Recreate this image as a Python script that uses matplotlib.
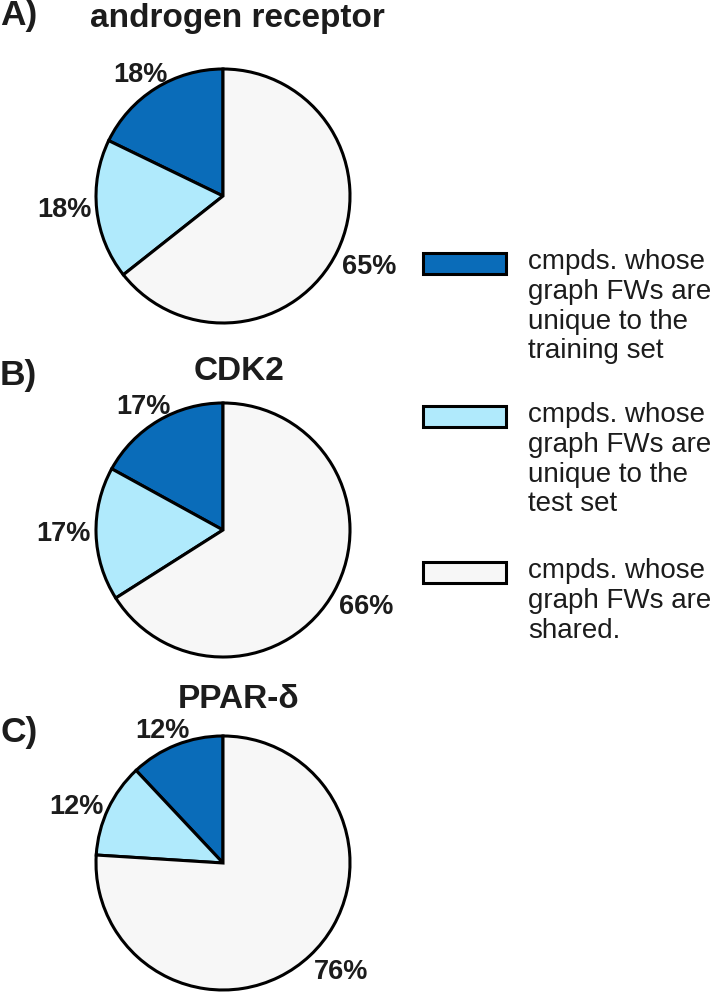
import matplotlib
matplotlib.use("Agg")
import matplotlib.pyplot as plt
from matplotlib.patches import Rectangle

plt.rcParams["font.family"] = ["Liberation Sans", "DejaVu Sans"]

W, H = 711, 992

# data
panels = ["A)", "B)", "C)"]
titles = ["androgen receptor", "CDK2", "PPAR-\u03b4"]
train_only = [18, 17, 12]
test_only = [18, 17, 12]
shared = [65, 66, 76]

colors = ["#0a6cb9", "#b0eafc", "#f7f7f7"]
legend_labels = [
    "cmpds. whose\ngraph FWs are\nunique to the\ntraining set",
    "cmpds. whose\ngraph FWs are\nunique to the\ntest set",
    "cmpds. whose\ngraph FWs are\nshared.",
]

# layout (pixels, from top-left)
pie_cx = 223
pie_cy = [196, 530, 863]
pie_r = 127
title_pos = [(237, 27), (239, 380), (239, 708)]
panel_pos = [(0, 25), (0, 385), (0, 742)]
ink = "#1c1c1c"

fig = plt.figure(figsize=(W / 100, H / 100), dpi=100)

# overlay axes in pixel coordinates for text + legend
ov = fig.add_axes([0, 0, 1, 1])
ov.set_xlim(0, W)
ov.set_ylim(H, 0)
ov.axis("off")

vas = ["bottom", "center", "top"]
pad = 1.35
for i in range(3):
    cy = pie_cy[i]
    ax = fig.add_axes([(pie_cx - pad * pie_r) / W, 1 - (cy + pad * pie_r) / H,
                       2 * pad * pie_r / W, 2 * pad * pie_r / H])
    vals = [train_only[i], test_only[i], shared[i]]
    labels = [f"{v}%" for v in vals]
    wedges, texts = ax.pie(vals, labels=labels, colors=colors, startangle=90,
                           counterclock=True, labeldistance=1.04,
                           wedgeprops=dict(edgecolor="black", linewidth=2.2),
                           textprops=dict(fontsize=19.5, fontweight="bold",
                                          color=ink))
    for t, va in zip(texts, vas):
        t.set_va(va)
    # top label sits a bit further right, over the rim
    x0, y0 = texts[0].get_position()
    texts[0].set_position((x0 + 0.12, y0 - 0.03))
    ax.set_xlim(-pad, pad)
    ax.set_ylim(-pad, pad)
    ax.set_aspect("equal")
    ax.set_zorder(1)

    ov.text(title_pos[i][0], title_pos[i][1], titles[i], ha="center",
            va="baseline", fontsize=24, fontweight="bold", color=ink)
    ov.text(panel_pos[i][0], panel_pos[i][1], panels[i], ha="left",
            va="baseline", fontsize=25.5, fontweight="bold", color=ink)

# legend
leg_y = [263, 416, 572]
for y, c, lab in zip(leg_y, colors, legend_labels):
    ov.add_patch(Rectangle((423, y - 10.5), 83, 21, facecolor=c,
                           edgecolor="black", linewidth=2.2))
    ov.text(528, y - 14, lab, ha="left", va="top", fontsize=20,
            linespacing=1.19, color=ink)

fig.savefig("out.png", dpi=100)
